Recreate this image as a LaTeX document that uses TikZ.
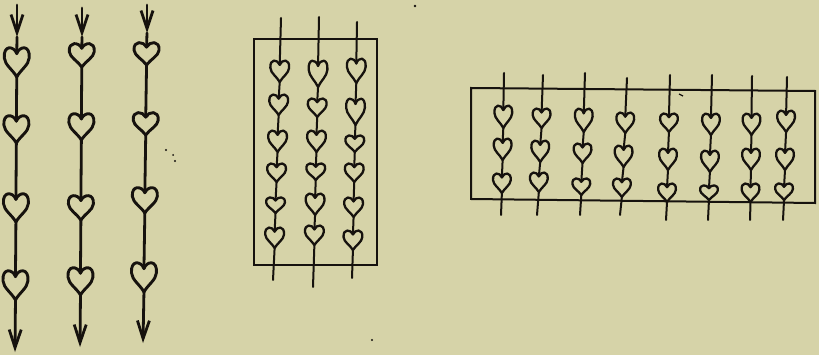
\documentclass[tikz,border=0pt]{standalone}
\usetikzlibrary{arrows.meta}
\definecolor{paper}{RGB}{214,211,168}
\definecolor{ink}{RGB}{22,18,14}
\tikzset{
  pics/heart/.style 2 args={code={
    \coordinate (-top) at (0,{0.22*#2});
    \coordinate (-bot) at (0,#2);
    \draw[heartline] (0,{0.22*#2})
      .. controls ({0.12*#1},{-0.04*#2}) and ({0.56*#1},{-0.08*#2}) .. ({0.52*#1},{0.36*#2})
      .. controls ({0.5*#1},{0.6*#2}) and ({0.16*#1},{0.76*#2}) .. (0,#2)
      .. controls ({-0.16*#1},{0.76*#2}) and ({-0.5*#1},{0.6*#2}) .. ({-0.52*#1},{0.36*#2})
      .. controls ({-0.56*#1},{-0.08*#2}) and ({-0.12*#1},{-0.04*#2}) .. (0,{0.22*#2}) -- cycle;
  }},
  heartline/.style={draw=ink,line width=2.3pt,line join=round},
  stem/.style={draw=ink,line width=2pt,line cap=round},
  frame/.style={draw=ink,line width=2pt,line join=miter},
  barb/.style={-{Straight Barb[length=18pt,width=12pt]}}
}
\begin{document}
\begin{tikzpicture}[x=1pt,y=-1pt]
\fill[paper] (0,0) rectangle (819,355);
\useasboundingbox (0,0) rectangle (819,355);

% ---------- left group: three arrows with four hearts ----------
\begin{scope}[heartline/.style={draw=ink,line width=2.9pt,line join=round},
              stem/.style={draw=ink,line width=2.8pt,line cap=round}]
\foreach \n/\xt/\xb/\ys/\ya/\ye/\hs in {
  1/17/15/5/37/352/{47/77,115/143,193/222,270/300},
  2/82/80/8/37/347/{43/67,113/140,195/220,267/295},
  3/147/143/5/33/343/{42/65,112/135,187/213,262/292}}{
  \coordinate (L\n-s) at (\xt,\ys);
  \coordinate (L\n-a) at (\xt,\ya);
  \coordinate (L\n-e) at (\xb,\ye);
  \foreach \ta/\tb [count=\k] in \hs {
    \pgfmathsetmacro\hx{\xt+(\xb-\xt)*(\ta-\ys)/(\ye-\ys)}
    \pgfmathsetmacro\hh{\tb-\ta}
    \pic (L\n-h\k) at (\hx,\ta) {heart={24}{\hh}};
  }
  \draw[stem,barb] (L\n-s) -- (L\n-a);
  \draw[stem] (L\n-a) -- (L\n-h1-top)
              (L\n-h1-bot) -- (L\n-h2-top)
              (L\n-h2-bot) -- (L\n-h3-top)
              (L\n-h3-bot) -- (L\n-h4-top);
  \draw[stem,barb] (L\n-h4-bot) -- (L\n-e);
}
\end{scope}

% ---------- middle group: frame with three strings of six hearts ----------
\draw[frame] (254,39) rectangle (377,265);
\foreach \n/\xt/\ys/\xb/\ye/\hs in {
  1/281/18/273/280/{60/82,94/115,130/152,163/182,197/213,227/248},
  2/319/17/313/287/{60/87,98/117,130/152,163/180,193/215,225/245},
  3/357/22/352/278/{58/83,98/125,135/152,163/182,197/217,230/250}}{
  \coordinate (M\n-s) at (\xt,\ys);
  \coordinate (M\n-e) at (\xb,\ye);
  \foreach \ta/\tb [count=\k] in \hs {
    \pgfmathsetmacro\hx{\xt+(\xb-\xt)*(\ta-\ys)/(\ye-\ys)}
    \pgfmathsetmacro\hh{\tb-\ta}
    \pic (M\n-h\k) at (\hx,\ta) {heart={18}{\hh}};
  }
  \draw[stem] (M\n-s) -- (M\n-h1-top);
  \foreach \k [evaluate=\k as \p using int(\k-1)] in {2,...,6}{
    \draw[stem] (M\n-h\p-bot) -- (M\n-h\k-top);
  }
  \draw[stem] (M\n-h6-bot) -- (M\n-e);
}

% ---------- right group: frame with eight strings of three hearts ----------
\draw[frame] (471,88) -- (815,91) -- (815,203) -- (471,199) -- cycle;
\foreach \n/\xt/\ys/\xb/\ye/\hs in {
  1/504/73/501/215/{105/128,138/160,173/193},
  2/543/75/537/215/{108/128,140/162,172/192},
  3/585/73/580/215/{108/132,143/163,178/195},
  4/627/78/620/215/{112/133,145/167,178/197},
  5/670/75/666/220/{113/132,148/170,183/202},
  6/712/75/708/220/{113/135,150/172,185/200},
  7/752/76/750/220/{113/135,148/170,183/202},
  8/787/77/783/220/{110/132,148/170,183/200}}{
  \coordinate (R\n-s) at (\xt,\ys);
  \coordinate (R\n-e) at (\xb,\ye);
  \foreach \ta/\tb [count=\k] in \hs {
    \pgfmathsetmacro\hx{\xt+(\xb-\xt)*(\ta-\ys)/(\ye-\ys)}
    \pgfmathsetmacro\hh{\tb-\ta}
    \pic (R\n-h\k) at (\hx,\ta) {heart={17}{\hh}};
  }
  \draw[stem] (R\n-s) -- (R\n-h1-top)
              (R\n-h1-bot) -- (R\n-h2-top)
              (R\n-h2-bot) -- (R\n-h3-top)
              (R\n-h3-bot) -- (R\n-e);
}

% ---------- specks of the print ----------
\fill[ink] (166,150) circle (1.2) (173,155) circle (1) (175,161) circle (1.2)
           (415,6) circle (1.4) (372,340) circle (1.1);
\draw[ink,line width=1.2pt] (679,94) -- (683,96);
\end{tikzpicture}
\end{document}
